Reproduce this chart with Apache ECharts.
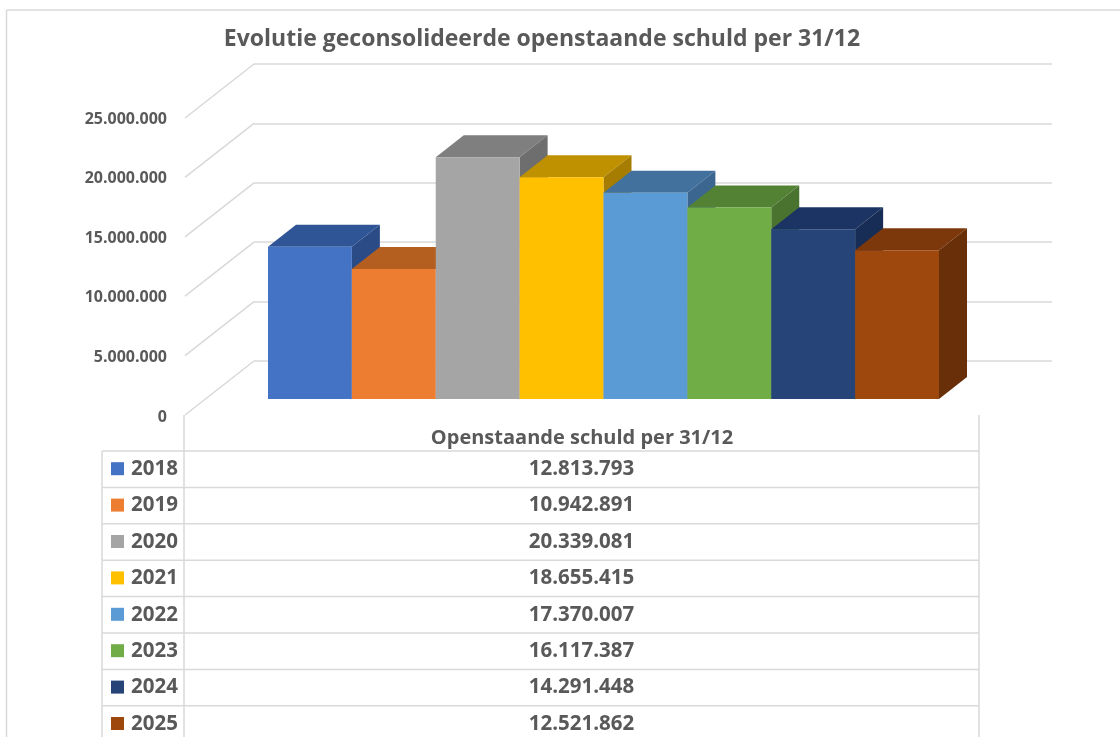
<!DOCTYPE html>
<html><head><meta charset="utf-8">
<style>html,body{margin:0;padding:0;background:#fff}#c{width:1120px;height:737px}</style>
<script src="https://cdn.jsdelivr.net/npm/echarts@6/dist/echarts.min.js"></script>
</head><body><div id="c"></div>
<script>
const chartTitle = 'Evolutie geconsolideerde openstaande schuld per 31/12';
const seriesName = 'Openstaande schuld per 31/12';
const categories = ['2018','2019','2020','2021','2022','2023','2024','2025'];
const debtValues = [12813793,10942891,20339081,18655415,17370007,16117387,14291448,12521862];
const tickValues = [0,5000000,10000000,15000000,20000000,25000000];
const frontColors = ['#4472C4','#ED7D31','#A5A5A5','#FFC000','#5B9BD5','#70AD47','#264478','#9E480E'];
const topColors   = ['#2F5597','#B45F20','#7F7F7F','#BF9000','#41719C','#548235','#1C3463','#7C380B'];
const sideColors  = ['#2B4B86','#9E5119','#6E6E6E','#A67D00','#3A6690','#4A7330','#182D55','#682F09'];

const GRID = '#D9D9D9', TEXT = '#595959';
const FONT = '"Open Sans", "Noto Sans", sans-serif';
const fmt = v => String(v).replace(/\B(?=(\d{3})+(?!\d))/g, '.');
const poly = (pts, fill) => ({type:'polygon', shape:{points:pts}, style:{fill}, silent:true});

function renderBar(params, api){
  const i = api.value(0), v = api.value(1);
  const w = api.size([1,0])[0];
  const top = api.coord([i, v]), base = api.coord([i, 0]);
  const l = top[0]-w/2, r = top[0]+w/2, dx = 28, dy = -22;
  return {type:'group', children:[
    poly([[l,top[1]],[r,top[1]],[r+dx,top[1]+dy],[l+dx,top[1]+dy]], topColors[i]),
    poly([[r,top[1]],[r+dx,top[1]+dy],[r+dx,base[1]+dy],[r,base[1]]], sideColors[i]),
    {type:'rect', shape:{x:l,y:top[1],width:r-l,height:base[1]-top[1]}, style:{fill:frontColors[i]}, silent:true}
  ]};
}
function renderDiagonal(params, api){
  const p = api.coord([0, api.value(0)]);
  return {type:'line', shape:{x1:p[0],y1:p[1],x2:p[0]-69,y2:p[1]+54},
          style:{stroke:GRID,lineWidth:1.5}, silent:true};
}
function renderRow(params, api){
  const i = api.value(0);
  const c = api.coord([0, i+0.5]), e = api.coord([1, i+0.5]);
  const h = api.size([0,1])[1];
  const y = c[1]-h/2;
  return {type:'group', children:[
    {type:'line', shape:{x1:c[0]-82,y1:y,x2:e[0],y2:y}, style:{stroke:GRID,lineWidth:1.5}, silent:true},
    {type:'rect', shape:{x:c[0]-73,y:c[1]-7,width:13,height:13}, style:{fill:frontColors[i]}, silent:true},
    {type:'text', style:{text:categories[i],x:c[0]-53,y:c[1],align:'left',verticalAlign:'middle',
      font:'700 20.5px '+FONT,fill:TEXT}, silent:true},
    {type:'text', style:{text:fmt(debtValues[i]),x:(c[0]+e[0])/2,y:c[1],align:'center',verticalAlign:'middle',
      font:'700 20.5px '+FONT,fill:TEXT}, silent:true}
  ]};
}
const vline = (x,y1,y2) => ({type:'line', shape:{x1:x,y1:y1,x2:x,y2:y2}, style:{stroke:GRID,lineWidth:1.5}, silent:true});
const hline = (x1,x2,y) => ({type:'line', shape:{x1:x1,y1:y,x2:x2,y2:y}, style:{stroke:GRID,lineWidth:1.5}, silent:true});

const hiddenX = i => ({gridIndex:i, type:'value', min:0, max:1, show:false});
const valueY = (i, extra) => Object.assign({gridIndex:i, type:'value', min:0, max:25000000, interval:5000000,
   axisLine:{show:false}, axisTick:{show:false}, axisLabel:{show:false}, splitLine:{show:false}}, extra);

const chart = echarts.init(document.getElementById('c'), null, {renderer:'canvas'});
chart.setOption({
  animation:false, backgroundColor:'#fff',
  title:{text:chartTitle, left:542, top:23, textAlign:'center',
         textStyle:{fontFamily:FONT, fontSize:23, fontWeight:700, color:TEXT}},
  grid:[
    {left:254, top:64, width:798, height:297},   // back wall
    {left:268, top:102, width:671, height:297},  // front plane of the bars
    {left:185, top:119, width:10, height:298},   // axis labels
    {left:184, top:451, width:795, height:273}   // data table: 7.5 rows of 36.4
  ],
  xAxis:[
    hiddenX(0),
    {gridIndex:1, type:'category', data:categories, show:false},
    hiddenX(2),
    hiddenX(3)
  ],
  yAxis:[
    valueY(0,{splitLine:{show:true,lineStyle:{color:GRID,width:1.5}}}),
    valueY(1,{show:false}),
    valueY(2,{axisLabel:{show:true,margin:18,color:TEXT,fontFamily:FONT,fontWeight:700,fontSize:16,
        formatter:fmt}}),
    {gridIndex:3, type:'value', min:0, max:7.5, inverse:true, show:false}
  ],
  series:[
    {type:'custom', xAxisIndex:0, yAxisIndex:0, data:tickValues.map(v=>[v]), encode:{y:0}, renderItem:renderDiagonal, z:1},
    {type:'custom', xAxisIndex:1, yAxisIndex:1, data:debtValues.map((v,i)=>[i,v]), encode:{x:0,y:1}, renderItem:renderBar, z:3},
    {type:'custom', xAxisIndex:3, yAxisIndex:3, data:categories.map((c,i)=>[i]), encode:{y:0}, renderItem:renderRow, z:2}
  ],
  graphic:{elements:[
    vline(184,415,737), vline(979,415,737), vline(102,451,737),
    vline(6.5,10,737), hline(6.5,1120,10),
    {type:'text', x:582, y:438, style:{text:seriesName, align:'center', verticalAlign:'middle',
       font:'700 20px '+FONT, fill:TEXT}}
  ]}
});
chart.setOption({title:{left:537}});
</script></body></html>
